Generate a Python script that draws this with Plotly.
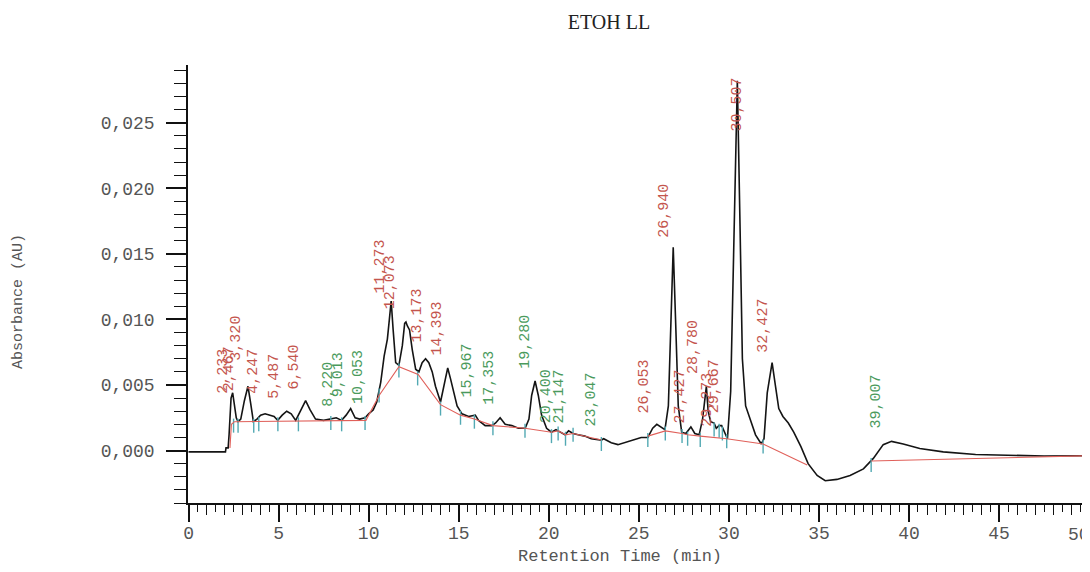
import plotly.graph_objects as go

# ---------------- data ----------------
chart_title = "ETOH LL"
x_title = "Retention Time (min)"
y_title = "Absorbance (AU)"

# chromatogram trace (time in min, absorbance in AU)
time_min = [0.0, 2.05, 2.08, 2.2, 2.25, 2.3, 2.36, 2.45, 2.55, 2.65, 2.75, 2.9, 3.1, 3.3,
            3.45, 3.6, 3.8, 4.0, 4.25, 4.5, 4.75, 4.95, 5.2, 5.45, 5.7, 5.95, 6.2, 6.5,
            6.75, 7.05, 7.5, 7.9, 8.2, 8.5, 8.75, 9.0, 9.25, 9.5, 9.8, 10.0, 10.25, 10.45,
            10.67, 10.86, 11.04, 11.15, 11.25, 11.36, 11.5, 11.68, 11.87, 12.0, 12.07, 12.15,
            12.27, 12.42, 12.61, 12.79, 12.97, 13.16, 13.34, 13.53, 13.71, 13.99, 14.17,
            14.39, 14.54, 14.72, 14.91, 15.18, 15.55, 15.92, 16.1, 16.47, 16.84, 17.05,
            17.3, 17.58, 17.95, 18.31, 18.69, 18.9, 19.05, 19.24, 19.42, 19.6, 19.88, 20.15,
            20.4, 20.52, 20.9, 21.1, 21.35, 21.63, 22.0, 22.36, 22.92, 23.05, 23.2, 23.47,
            23.84, 24.21, 24.57, 25.13, 25.5, 25.77, 26.0, 26.23, 26.45, 26.64, 26.78, 26.91,
            27.04, 27.19, 27.38, 27.61, 27.89, 28.11, 28.35, 28.54, 28.75, 28.85, 28.99,
            29.18, 29.3, 29.45, 29.6, 29.75, 29.92, 30.1, 30.25, 30.47, 30.62, 30.75, 30.93,
            31.2, 31.48, 31.8, 31.95, 32.13, 32.4, 32.59, 32.77, 33.0, 33.3, 33.6, 34.0,
            34.4, 34.9, 35.35, 36.0, 36.73, 37.47, 38.02, 38.57, 39.03, 39.68, 40.6, 41.9,
            43.7, 45.6, 47.5, 49.9]
absorbance = [-0.0001, -0.0001, 0.0002, 0.0002, 0.0012, 0.0030, 0.0040, 0.0044, 0.0035, 0.0025,
              0.0022, 0.0024, 0.0038, 0.0049, 0.0036, 0.0022, 0.0024, 0.0027, 0.0028, 0.0027,
              0.0026, 0.0023, 0.0027, 0.0030, 0.0028, 0.0023, 0.0030, 0.0038, 0.0031, 0.0024,
              0.0023, 0.0024, 0.0025, 0.0023, 0.0027, 0.0032, 0.0025, 0.0024, 0.0025, 0.0028,
              0.0031, 0.0037, 0.0052, 0.0072, 0.0085, 0.0100, 0.0114, 0.0092, 0.0067, 0.0065,
              0.0080, 0.0097, 0.0098, 0.0095, 0.0092, 0.0077, 0.0062, 0.0060, 0.0067, 0.0070,
              0.0067, 0.0060, 0.0049, 0.0037, 0.0049, 0.0063, 0.0055, 0.0044, 0.0034, 0.0028,
              0.0026, 0.0027, 0.0023, 0.0019, 0.0019, 0.0021, 0.0025, 0.0020, 0.0019, 0.0017,
              0.0017, 0.0024, 0.0042, 0.0053, 0.0042, 0.0027, 0.0017, 0.0014, 0.0016, 0.0015,
              0.0012, 0.0015, 0.0013, 0.0012, 0.0011, 0.0009, 0.0008, 0.0009, 0.0008, 0.0006,
              0.00045, 0.0006, 0.0008, 0.0010, 0.0010, 0.0017, 0.0020, 0.0018, 0.0016, 0.0034,
              0.0100, 0.0155, 0.0100, 0.0034, 0.0014, 0.0013, 0.0018, 0.0013, 0.0012, 0.0024,
              0.0049, 0.0030, 0.0022, 0.0021, 0.0017, 0.0019, 0.0019, 0.0014, 0.0009, 0.0045,
              0.0145, 0.0282, 0.0171, 0.0070, 0.0034, 0.0024, 0.0012, 0.0005, 0.0009, 0.0044,
              0.0067, 0.0049, 0.0032, 0.0026, 0.0021, 0.0014, 0.0003, -0.0010, -0.0019,
              -0.0023, -0.0022, -0.0019, -0.0014, -0.0006, 0.00045, 0.0007, 0.0005, 0.00015,
              -0.0001, -0.0003, -0.00038, -0.00042, -0.0004]

# integration baseline (red), None = gap
base_time = [2.3, 2.38, 2.55, 9.85, 10.58, 11.68, 12.75, 13.99, 15.1, 15.87, 16.9, 18.68,
             20.15, 20.52, 20.93, 21.35, 22.92, None,
             25.5, 26.47, 27.4, 27.71, 28.41, 29.88, 31.9, 34.35, None,
             37.9, 49.9]
base_abs = [0.0002, 0.0020, 0.0022, 0.0023, 0.0042, 0.0064, 0.0058, 0.0035, 0.0027, 0.0024,
            0.0019, 0.0017, 0.0014, 0.0015, 0.0012, 0.0013, 0.0008, None,
            0.0011, 0.0015, 0.0013, 0.0012, 0.0011, 0.0009, 0.0005, -0.0011, None,
            -0.0008, -0.0004]

# peak start/end markers (cyan ticks)
mark_time = [2.5, 2.75, 3.62, 3.9, 4.96, 6.1, 7.9, 8.5, 9.8, 10.58, 11.68, 12.72, 13.99,
             15.1, 15.87, 16.9, 18.68, 20.15, 20.52, 20.93, 21.35, 22.92, 25.5, 26.47,
             27.4, 27.71, 28.41, 29.18, 29.46, 29.64, 29.88, 31.9, 37.9]
mark_abs = [0.0019, 0.0019, 0.0019, 0.0020, 0.0020, 0.0020, 0.0021, 0.0020, 0.0021, 0.0042,
            0.0061, 0.0055, 0.0032, 0.0025, 0.0022, 0.0017, 0.0015, 0.0011, 0.0013, 0.0009,
            0.0012, 0.0005, 0.0008, 0.0013, 0.0011, 0.0009, 0.0008, 0.0016, 0.0015, 0.0013,
            0.0007, 0.0003, -0.0011]

# peak labels (retention times), label anchor position and colour group
peak_labels = ["2,233", "2,467", "3,320", "4,247", "5,487", "6,540", "8,220", "9,013",
               "10,053", "11,273", "12,073", "13,173", "14,393", "15,967", "17,353",
               "19,280", "20,400", "21,147", "23,047", "26,053", "26,940", "27,427",
               "28,780", "29,273", "29,667", "30,507", "32,427", "39,007"]
label_time = [1.96, 2.24, 2.66, 3.62, 4.78, 5.88, 7.72, 8.37, 9.47, 10.67, 11.23, 12.70,
              13.80, 15.46, 16.71, 18.69, 19.88, 20.62, 22.36, 25.31, 26.42, 27.34, 28.08,
              28.81, 29.18, 30.47, 31.94, 38.20]
label_abs = [0.0042, 0.0044, 0.0067, 0.0042, 0.0038, 0.0045, 0.0032, 0.0039, 0.0034, 0.0118,
             0.0106, 0.0081, 0.0071, 0.0039, 0.0033, 0.0061, 0.0019, 0.0019, 0.0017, 0.0027,
             0.0161, 0.0019, 0.0057, 0.0017, 0.0027, 0.0242, 0.0073, 0.0015]
label_group = ["r", "r", "r", "r", "r", "r", "g", "g", "g", "r", "r", "r", "r", "g", "g",
               "g", "g", "g", "g", "r", "r", "r", "r", "r", "r", "r", "r", "g"]

x_ticks = [0, 5, 10, 15, 20, 25, 30, 35, 40, 45, 50]
x_tick_text = ["0", "5", "10", "15", "20", "25", "30", "35", "40", "45", "50"]

# ---------------- styling ----------------
RED = "#c4554d"
GREEN = "#4a9a5c"
CYAN = "#52a9b3"
AXIS = "#111111"
TXT = "#555555"
MONO = "Liberation Mono, Courier New, monospace"

# the page body has an 8px margin, so the figure is sized/offset to land at the
# reference positions inside the 1090x572 window
W, H = 1082, 564

fig = go.Figure()

fig.add_trace(go.Scatter(x=base_time, y=base_abs, mode="lines", xaxis="x2",
                         line=dict(color="#e0605a", width=1.1), connectgaps=False,
                         hoverinfo="skip", showlegend=False))
fig.add_trace(go.Scatter(x=time_min, y=absorbance, mode="lines",
                         line=dict(color="#141414", width=1.6), showlegend=False))
fig.add_trace(go.Scatter(x=mark_time, y=mark_abs, mode="markers",
                         marker=dict(symbol="line-ns", size=10,
                                     line=dict(color=CYAN, width=1.4)),
                         hoverinfo="skip", showlegend=False))

annotations = []
for txt, t, v, g in zip(peak_labels, label_time, label_abs, label_group):
    annotations.append(dict(x=t, y=v, xref="x", yref="y", text=txt, showarrow=False,
                            textangle=-90, xanchor="center", yanchor="bottom",
                            font=dict(family=MONO, size=15,
                                      color=RED if g == "r" else GREEN)))

# the last tick label sits at the window edge; drawn as an annotation (kept inside
# the window) so that it does not push the plot margin
annotations.append(dict(x=x_ticks[-1], y=0, xref="x", yref="paper", text=x_tick_text[-1],
                        showarrow=False, xanchor="center", yanchor="top", yshift=-20,
                        xshift=-10, font=dict(family=MONO, size=18, color=TXT)))

annotations.append(dict(text=y_title, xref="paper", yref="paper", x=-0.1885, y=0.461,
                        showarrow=False, textangle=-90, xanchor="center", yanchor="middle",
                        font=dict(family=MONO, size=15, color=TXT)))
annotations.append(dict(text=x_title, xref="paper", yref="paper", x=0.479, y=-0.123,
                        showarrow=False, xanchor="center", yanchor="middle",
                        font=dict(family=MONO, size=17, color=TXT)))

xr = [-0.03, 50.05]
fig.update_layout(
    width=W, height=H,
    margin=dict(l=180, r=0, t=57, b=69),
    paper_bgcolor="white", plot_bgcolor="white",
    separators=", ",
    title=dict(text=chart_title, xref="container", yref="container",
               x=(609 - 8) / W, y=1 - (22 - 8) / H, xanchor="center", yanchor="middle",
               font=dict(family="Liberation Serif, Times New Roman, serif", size=20,
                         color="#222222")),
    xaxis=dict(range=xr, showline=True, linecolor=AXIS, linewidth=1.5,
               ticks="outside", tickmode="array", tickvals=x_ticks,
               ticktext=x_tick_text[:-1] + [""], ticklen=17, automargin=False,
               tickwidth=1.5, tickcolor=AXIS, ticklabelstandoff=-4,
               tickfont=dict(family=MONO, size=18, color=TXT),
               showgrid=False, zeroline=False,
               minor=dict(ticks="outside", tickmode="linear", tick0=0, dtick=0.5,
                          ticklen=7, tickwidth=1.2, tickcolor=AXIS, showgrid=False)),
    xaxis2=dict(range=xr, overlaying="x", matches="x", anchor="y", side="bottom",
                ticks="outside", tickmode="linear", tick0=0, dtick=1, ticklen=11,
                tickwidth=1.3, tickcolor=AXIS, showticklabels=False, showline=False,
                showgrid=False, zeroline=False, automargin=False),
    yaxis=dict(range=[-0.0040, 0.0294], showline=True, linecolor=AXIS, linewidth=1.5,
               ticks="outside", tickmode="linear", tick0=0, dtick=0.005, ticklen=20,
               tickwidth=1.5, tickcolor=AXIS, tickformat=".3f", ticklabelstandoff=8,
               tickfont=dict(family=MONO, size=18, color=TXT), automargin=False,
               showgrid=False, zeroline=False,
               minor=dict(ticks="outside", tickmode="linear", tick0=0, dtick=0.001,
                          ticklen=12, tickwidth=1.2, tickcolor=AXIS, showgrid=False)),
    annotations=annotations,
)

fig.write_html("out.html")
